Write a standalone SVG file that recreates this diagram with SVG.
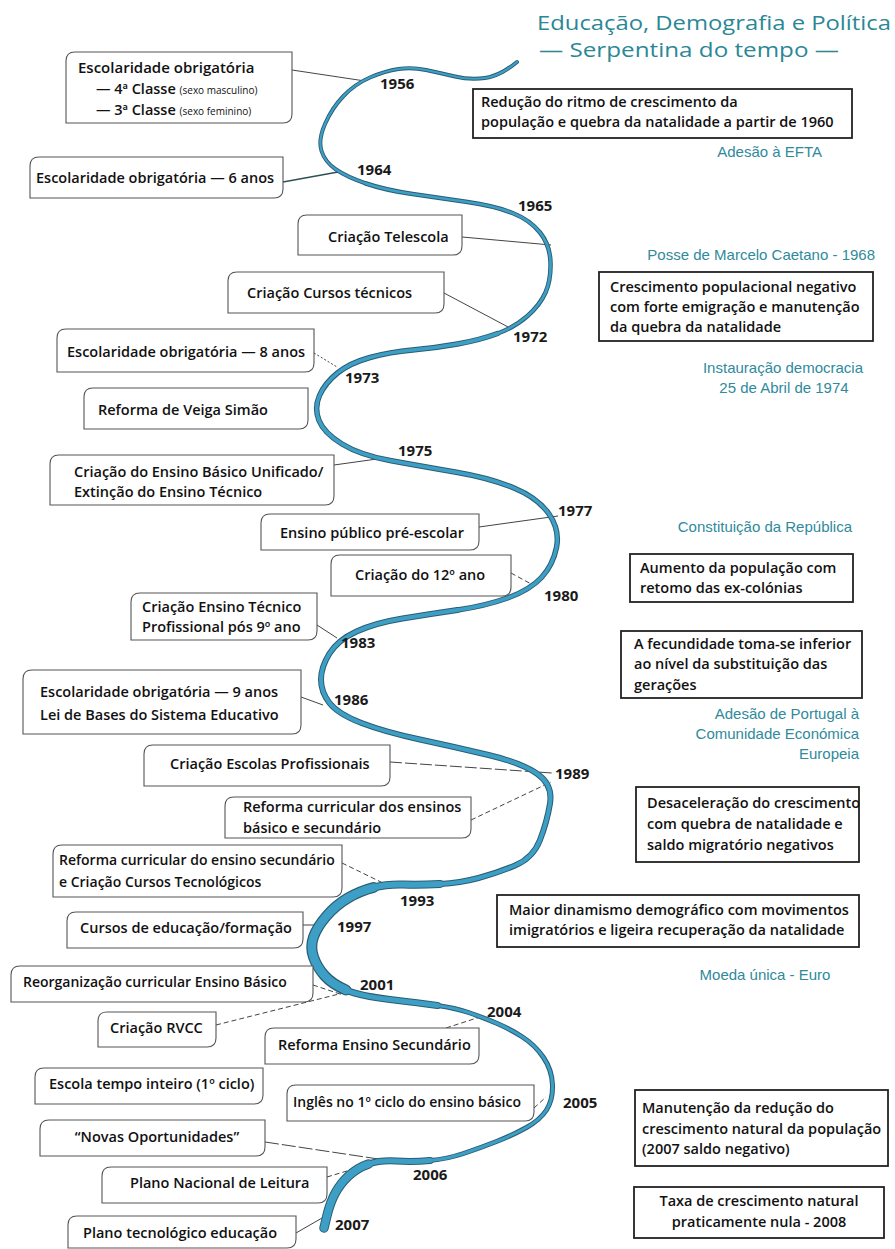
<svg xmlns="http://www.w3.org/2000/svg" width="895" height="1249" viewBox="0 0 895 1249">
<style>
.bg{fill:#ffffff}
.title{font-family:"Open Sans","Liberation Sans",sans-serif;font-size:20px;fill:#2b8796}
.nb{fill:#ffffff;stroke:#555555;stroke-width:1.1}
.rb{fill:#ffffff;stroke:#222222;stroke-width:1.8}
.t{font-family:"Open Sans","Liberation Sans",sans-serif;font-size:14.5px;font-weight:600;fill:#111111}
.sm{font-size:10px;font-weight:400}
.yr{font-family:"Open Sans","Liberation Sans",sans-serif;font-size:15px;font-weight:bold;fill:#1a1a1a}
.an{font-family:"Liberation Sans","Arial",sans-serif;font-size:15px;fill:#2f8a9c}
.c{fill:none;stroke:#444444;stroke-width:1}
.cd{fill:none;stroke:#444444;stroke-width:1;stroke-dasharray:5 3}
.so{fill:none;stroke:#2a5d72;stroke-linecap:round;stroke-linejoin:round}
.sf{fill:none;stroke:#3e9fc6;stroke-linecap:round;stroke-linejoin:round}
</style>
<defs>
<path id="s1" d="M517,62 Q500,76 485,78 Q470,80 455,76.5 Q440,73 426,70 Q412,67 398.5,69 Q385,71 370,77.5 Q355,84 343.5,96 Q332,108 325,124 Q318,140 321.5,151 Q325,162 336,169.5 Q347,177 366,183.5"/>
<path id="s2" d="M366,183.5 Q385,190 412.5,194 Q440,198 467.5,202 Q495,206 512.5,213 Q530,220 540,232.5 Q550,245 550.5,262.5 Q551,280 545.5,292.5 Q540,305 527.5,316 Q515,327 497.5,333.5"/>
<path id="s3" d="M497.5,333.5 Q480,340 457.5,344 Q435,348 412.5,350 Q390,352 370,357.5 Q350,363 337.5,373 Q325,383 319.5,395.5 Q314,408 319,420.5 Q324,433 342,444 Q360,455 390,460.5 Q420,466 455,472 Q490,478 514,488 Q538,498 549,514 Q560,530 556.5,547.5 Q553,565 541.5,577.5 Q530,590 507.5,598 Q485,606 457.5,610"/>
<path id="s4" d="M457.5,610 Q430,614 402.5,618.5 Q375,623 356.5,631.5 Q338,640 329.5,653.5 Q321,667 321,679.5 Q321,692 329.5,703 Q338,714 361.5,723 Q385,732 420,739.5 Q455,747 488.5,755 Q522,763 537.5,774 Q553,785 550,803.5 Q547,822 540,840 Q533,858 515,865.5 Q497,873 478.5,878 Q460,883 440,884"/>
<path id="s5" d="M440,884 Q420,885 403.5,884.5 Q387,884 373.5,887.5"/>
<path id="s6" d="M373.5,887.5 Q360,891 348,898 Q336,905 326.5,916 Q317,927 313.5,937 Q310,947 313.5,957 Q317,967 324.5,975.5 Q332,984 346,990"/>
<path id="s7" d="M346,990 Q360,996 390,999.5 Q420,1003 437.5,1005.5"/>
<path id="s8" d="M437.5,1005.5 Q455,1008 468.5,1012.5 Q482,1017 496,1023 Q510,1029 522.5,1037 Q535,1045 543.5,1057.5 Q552,1070 552.5,1085 Q553,1100 546.5,1110 Q540,1120 526.5,1127.5 Q513,1135 496.5,1141.5 Q480,1148 463.5,1153.5 Q447,1159 430,1160.5"/>
<path id="s9" d="M430,1160.5 Q413,1162 396.5,1161 Q380,1160 368.5,1164"/>
<path id="s10" d="M368.5,1164 Q357,1168 348.5,1176 Q340,1184 335,1193.5 Q330,1203 327,1215.5 L324,1228"/>
</defs>
<rect class="bg" x="0" y="0" width="895" height="1249"/>

<g id="title">
<text class="title" x="537" y="30" textLength="354" lengthAdjust="spacingAndGlyphs">Educação, Demografia e Política</text>
<text class="title" x="539" y="57" textLength="300" lengthAdjust="spacingAndGlyphs">— Serpentina do tempo —</text>
</g>

<g id="connectors">
<line class="c" x1="292" y1="70" x2="365" y2="81"/>
<line class="c" x1="283" y1="182" x2="338" y2="172" style="stroke-width:1.6;stroke:#2f4f5a"/>
<line class="c" x1="462" y1="237" x2="551" y2="245"/>
<line class="c" x1="444" y1="293" x2="510" y2="328"/>
<line class="cd" x1="314" y1="353" x2="337" y2="367" style="stroke-dasharray:2 2"/>
<line class="c" x1="334" y1="465" x2="377" y2="459"/>
<line class="c" x1="479" y1="527" x2="558" y2="516"/>
<line class="cd" x1="511" y1="573" x2="533" y2="585"/>
<line class="c" x1="317" y1="625" x2="337" y2="638"/>
<line class="c" x1="301" y1="697" x2="323" y2="705"/>
<line class="cd" x1="390" y1="762" x2="552" y2="773" style="stroke-dasharray:12 3"/>
<line class="cd" x1="471" y1="820" x2="551" y2="782"/>
<line class="cd" x1="342" y1="863" x2="385" y2="884"/>
<line class="c" x1="303" y1="925" x2="318" y2="925"/>
<line class="cd" x1="313" y1="985" x2="343" y2="995"/>
<line class="cd" x1="216" y1="1025" x2="343" y2="993"/>
<line class="cd" x1="446" y1="1028" x2="480" y2="1017"/>
<line class="cd" x1="534" y1="1108" x2="546" y2="1097"/>
<line class="cd" x1="265" y1="1142" x2="385" y2="1160" style="stroke-dasharray:14 3"/>
<line class="cd" x1="327" y1="1177" x2="360" y2="1167"/>
<line class="c" x1="296" y1="1233" x2="322" y2="1218"/>
</g>

<g id="serpentine">
<use href="#s1" class="so" style="stroke-width:4"/>
<use href="#s2" class="so" style="stroke-width:4.5"/>
<use href="#s3" class="so" style="stroke-width:5.5"/>
<use href="#s4" class="so" style="stroke-width:6"/>
<use href="#s5" class="so" style="stroke-width:8"/>
<use href="#s6" class="so" style="stroke-width:11"/>
<use href="#s7" class="so" style="stroke-width:7"/>
<use href="#s8" class="so" style="stroke-width:5"/>
<use href="#s9" class="so" style="stroke-width:7"/>
<use href="#s10" class="so" style="stroke-width:9.5"/>
<use href="#s1" class="sf" style="stroke-width:2.2"/>
<use href="#s2" class="sf" style="stroke-width:2.7"/>
<use href="#s3" class="sf" style="stroke-width:3.5"/>
<use href="#s4" class="sf" style="stroke-width:4"/>
<use href="#s5" class="sf" style="stroke-width:6"/>
<use href="#s6" class="sf" style="stroke-width:8.5"/>
<use href="#s7" class="sf" style="stroke-width:5"/>
<use href="#s8" class="sf" style="stroke-width:3"/>
<use href="#s9" class="sf" style="stroke-width:5"/>
<use href="#s10" class="sf" style="stroke-width:7.5"/>
</g>

<g id="years">
<text class="yr" x="380" y="89">1956</text>
<text class="yr" x="357" y="175">1964</text>
<text class="yr" x="518" y="211">1965</text>
<text class="yr" x="513" y="342">1972</text>
<text class="yr" x="345" y="383">1973</text>
<text class="yr" x="398" y="456">1975</text>
<text class="yr" x="558" y="516">1977</text>
<text class="yr" x="544" y="601">1980</text>
<text class="yr" x="341" y="648">1983</text>
<text class="yr" x="334" y="705">1986</text>
<text class="yr" x="555" y="779">1989</text>
<text class="yr" x="400" y="906">1993</text>
<text class="yr" x="337" y="932">1997</text>
<text class="yr" x="360" y="990">2001</text>
<text class="yr" x="487" y="1017">2004</text>
<text class="yr" x="563" y="1108">2005</text>
<text class="yr" x="413" y="1180">2006</text>
<text class="yr" x="335" y="1230">2007</text>
</g>

<g id="n-1956">
<path class="nb" d="M66,61 Q66,52 75,52 L292,52 L292,114 Q292,123 283,123 L66,123 Z"/>
<text class="t" x="78" y="73" style="font-size:15px">Escolaridade obrigatória</text>
<text class="t" x="96" y="94">— 4ª Classe <tspan class="sm">(sexo masculino)</tspan></text>
<text class="t" x="96" y="115">— 3ª Classe <tspan class="sm">(sexo feminino)</tspan></text>
</g>
<g id="n-1964">
<path class="nb" d="M30,166 Q30,157 39,157 L283,157 L283,189 Q283,198 274,198 L30,198 Z"/>
<text class="t" x="36" y="183" style="font-size:14.5px">Escolaridade obrigatória —  6 anos</text>
</g>
<g id="n-telescola">
<path class="nb" d="M298,224 Q298,215 307,215 L462,215 L462,246 Q462,255 453,255 L298,255 Z"/>
<text class="t" x="328" y="242">Criação Telescola</text>
</g>
<g id="n-cursos-tecnicos">
<path class="nb" d="M228,281 Q228,272 237,272 L444,272 L444,304 Q444,313 435,313 L228,313 Z"/>
<text class="t" x="247" y="298">Criação Cursos técnicos</text>
</g>
<g id="n-8anos">
<path class="nb" d="M57,338 Q57,329 66,329 L314,329 L314,363 Q314,372 305,372 L57,372 Z"/>
<text class="t" x="67" y="357">Escolaridade obrigatória — 8 anos</text>
</g>
<g id="n-veiga">
<path class="nb" d="M84,397 Q84,388 93,388 L308,388 L308,420 Q308,429 299,429 L84,429 Z"/>
<text class="t" x="98" y="415">Reforma de Veiga Simão</text>
</g>
<g id="n-unificado">
<path class="nb" d="M50,464 Q50,455 59,455 L334,455 L334,496 Q334,505 325,505 L50,505 Z"/>
<text class="t" x="74" y="477">Criação do Ensino Básico Unificado/</text>
<text class="t" x="74" y="497">Extinção do Ensino Técnico</text>
</g>
<g id="n-preescolar">
<path class="nb" d="M261,523 Q261,514 270,514 L479,514 L479,541 Q479,550 470,550 L261,550 Z"/>
<text class="t" x="280" y="538">Ensino público pré-escolar</text>
</g>
<g id="n-12ano">
<path class="nb" d="M331,564 Q331,555 340,555 L511,555 L511,587 Q511,596 502,596 L331,596 Z"/>
<text class="t" x="355" y="580">Criação do 12º ano</text>
</g>
<g id="n-tecnico-prof">
<path class="nb" d="M131,602 Q131,593 140,593 L317,593 L317,631 Q317,640 308,640 L131,640 Z"/>
<text class="t" x="142" y="612">Criação Ensino Técnico</text>
<text class="t" x="142" y="632">Profissional pós 9º ano</text>
</g>
<g id="n-9anos">
<path class="nb" d="M23,679 Q23,670 32,670 L301,670 L301,725 Q301,734 292,734 L23,734 Z"/>
<text class="t" x="40" y="697">Escolaridade obrigatória  — 9 anos</text>
<text class="t" x="40" y="720">Lei de Bases do Sistema Educativo</text>
</g>
<g id="n-escolas-prof">
<path class="nb" d="M144,754 Q144,745 153,745 L390,745 L390,777 Q390,786 381,786 L144,786 Z"/>
<text class="t" x="170" y="769">Criação Escolas Profissionais</text>
</g>
<g id="n-reforma-ensinos">
<path class="nb" d="M225,806 Q225,797 234,797 L471,797 L471,829 Q471,838 462,838 L225,838 Z"/>
<text class="t" x="243" y="812">Reforma curricular dos ensinos</text>
<text class="t" x="243" y="833">básico e secundário</text>
</g>
<g id="n-reforma-sec">
<path class="nb" d="M53,854 Q53,845 62,845 L342,845 L342,888 Q342,897 333,897 L53,897 Z"/>
<text class="t" x="59" y="865" style="font-size:14px">Reforma curricular do ensino secundário</text>
<text class="t" x="59" y="887" style="font-size:14px">e Criação Cursos Tecnológicos</text>
</g>
<g id="n-cursos-ef">
<path class="nb" d="M67,921 Q67,912 76,912 L303,912 L303,939 Q303,948 294,948 L67,948 Z"/>
<text class="t" x="80" y="933">Cursos de educação/formação</text>
</g>
<g id="n-reorg">
<path class="nb" d="M11,975 Q11,966 20,966 L313,966 L313,993 Q313,1002 304,1002 L11,1002 Z"/>
<text class="t" x="23" y="987" style="font-size:14px">Reorganização curricular Ensino Básico</text>
</g>
<g id="n-rvcc">
<path class="nb" d="M98,1021 Q98,1012 107,1012 L216,1012 L216,1038 Q216,1047 207,1047 L98,1047 Z"/>
<text class="t" x="110" y="1033">Criação RVCC</text>
</g>
<g id="n-reforma-ens-sec">
<path class="nb" d="M265,1037 Q265,1028 274,1028 L479,1028 L479,1055 Q479,1064 470,1064 L265,1064 Z"/>
<text class="t" x="278" y="1050">Reforma Ensino Secundário</text>
</g>
<g id="n-tempo-inteiro">
<path class="nb" d="M35,1077 Q35,1068 44,1068 L263,1068 L263,1095 Q263,1104 254,1104 L35,1104 Z"/>
<text class="t" x="49" y="1089">Escola tempo inteiro (1º ciclo)</text>
</g>
<g id="n-ingles">
<path class="nb" d="M287,1094 Q287,1085 296,1085 L534,1085 L534,1112 Q534,1121 525,1121 L287,1121 Z"/>
<text class="t" x="293" y="1107" style="font-size:14px">Inglês no 1º ciclo do ensino básico</text>
</g>
<g id="n-novas">
<path class="nb" d="M40,1129 Q40,1120 49,1120 L265,1120 L265,1147 Q265,1156 256,1156 L40,1156 Z"/>
<text class="t" x="157" y="1142" text-anchor="middle">“Novas Oportunidades”</text>
</g>
<g id="n-pnl">
<path class="nb" d="M102,1176 Q102,1167 111,1167 L327,1167 L327,1194 Q327,1203 318,1203 L102,1203 Z"/>
<text class="t" x="130" y="1188">Plano Nacional de Leitura</text>
</g>
<g id="n-ptec">
<path class="nb" d="M68,1225 Q68,1216 77,1216 L296,1216 L296,1239 Q296,1248 287,1248 L68,1248 Z"/>
<text class="t" x="83" y="1238">Plano tecnológico educação</text>
</g>

<g id="d-1960">
<rect class="rb" x="473" y="89" width="379" height="49"/>
<text class="t" x="481" y="107">Redução do ritmo de crescimento da</text>
<text class="t" x="481" y="127">população e quebra da natalidade a partir de 1960</text>
</g>
<g id="d-emigracao">
<rect class="rb" x="599" y="272" width="274" height="69"/>
<text class="t" x="610" y="292">Crescimento populacional negativo</text>
<text class="t" x="610" y="312">com forte emigração e manutenção</text>
<text class="t" x="610" y="332">da quebra da natalidade</text>
</g>
<g id="d-colonias">
<rect class="rb" x="630" y="554" width="223" height="48"/>
<text class="t" x="640" y="573">Aumento da população com</text>
<text class="t" x="640" y="593">retomo das ex-colónias</text>
</g>
<g id="d-fecundidade">
<rect class="rb" x="621" y="631" width="241" height="67"/>
<text class="t" x="634" y="649">A fecundidade toma-se inferior</text>
<text class="t" x="634" y="669">ao nível da substituição das</text>
<text class="t" x="634" y="690">gerações</text>
</g>
<g id="d-desaceleracao">
<rect class="rb" x="636" y="787" width="223" height="75"/>
<text class="t" x="647" y="808">Desaceleração do crescimento</text>
<text class="t" x="647" y="829">com quebra de natalidade e</text>
<text class="t" x="647" y="850">saldo migratório negativos</text>
</g>
<g id="d-dinamismo">
<rect class="rb" x="497" y="895" width="362" height="52"/>
<text class="t" x="509" y="915">Maior dinamismo demográfico com movimentos</text>
<text class="t" x="509" y="935">imigratórios e ligeira recuperação da natalidade</text>
</g>
<g id="d-2007">
<rect class="rb" x="635" y="1090" width="253" height="76"/>
<text class="t" x="642" y="1113">Manutenção da redução do</text>
<text class="t" x="642" y="1134">crescimento natural da população</text>
<text class="t" x="642" y="1154">(2007 saldo negativo)</text>
</g>
<g id="d-2008">
<rect class="rb" x="634" y="1187" width="250" height="51"/>
<text class="t" x="759" y="1206" text-anchor="middle">Taxa de crescimento natural</text>
<text class="t" x="759" y="1227" text-anchor="middle">praticamente nula - 2008</text>
</g>

<g id="politics">
<text class="an" x="822" y="157" text-anchor="end">Adesão à EFTA</text>
<text class="an" x="875" y="260" text-anchor="end">Posse de Marcelo Caetano - 1968</text>
<text class="an" x="783" y="373" text-anchor="middle">Instauração democracia</text>
<text class="an" x="784" y="393" text-anchor="middle">25 de Abril de 1974</text>
<text class="an" x="852" y="532" text-anchor="end">Constituição da República</text>
<text class="an" x="859" y="719" text-anchor="end">Adesão de Portugal à</text>
<text class="an" x="859" y="739" text-anchor="end">Comunidade Económica</text>
<text class="an" x="859" y="759" text-anchor="end">Europeia</text>
<text class="an" x="765" y="980" text-anchor="middle">Moeda única - Euro</text>
</g>
</svg>
